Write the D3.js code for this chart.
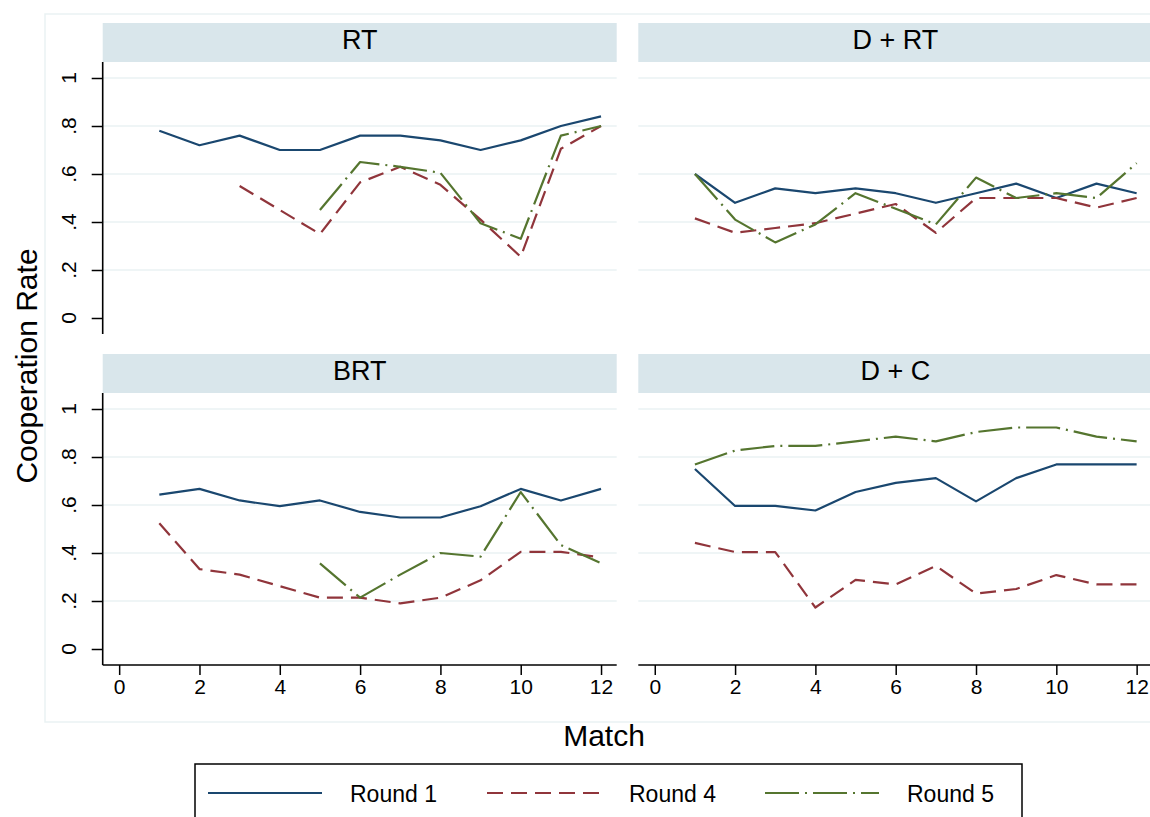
<!DOCTYPE html>
<html>
<head>
<meta charset="utf-8">
<script src="https://cdn.jsdelivr.net/npm/d3@7"></script>
<style>
  body { margin: 0; background: #ffffff; }
  text { font-family: "Liberation Sans", Arial, Helvetica, sans-serif; fill: #000; }
</style>
</head>
<body>
<div id="canvas"></div>
<script>
"use strict"

/* svg size matches the window */
let svgWidth = 1150;
let svgHeight = 817;

/* x values shared by every panel */
let matches = [1, 2, 3, 4, 5, 6, 7, 8, 9, 10, 11, 12];
let xTicks = [0, 2, 4, 6, 8, 10, 12];
let yTicks = [0, 0.2, 0.4, 0.6, 0.8, 1];
let yTickLabels = ["0", ".2", ".4", ".6", ".8", "1"];

let panelTitles = ["RT", "D + RT", "BRT", "D + C"];
let seriesNames = ["Round 1", "Round 4", "Round 5"];

/* cooperation rate per match (null = no point) */
let rtRound1 = [0.78, 0.72, 0.76, 0.70, 0.70, 0.76, 0.76, 0.74, 0.70, 0.74, 0.80, 0.84];
let rtRound4 = [null, null, 0.55, 0.45, 0.35, 0.565, 0.63, 0.555, 0.41, 0.255, 0.705, 0.80];
let rtRound5 = [null, null, null, null, 0.45, 0.65, 0.63, 0.605, 0.395, 0.33, 0.76, 0.80];

let drtRound1 = [0.60, 0.48, 0.54, 0.52, 0.54, 0.52, 0.48, 0.52, 0.56, 0.50, 0.56, 0.52];
let drtRound4 = [0.415, 0.355, 0.375, 0.395, 0.435, 0.475, 0.355, 0.50, 0.50, 0.50, 0.46, 0.50];
let drtRound5 = [0.60, 0.41, 0.315, 0.39, 0.52, 0.455, 0.39, 0.585, 0.50, 0.52, 0.50, 0.645];

let brtRound1 = [0.643, 0.667, 0.619, 0.595, 0.619, 0.571, 0.548, 0.548, 0.595, 0.667, 0.619, 0.667];
let brtRound4 = [0.524, 0.333, 0.31, 0.262, 0.214, 0.214, 0.19, 0.214, 0.286, 0.405, 0.405, 0.381];
let brtRound5 = [null, null, null, null, 0.357, 0.214, 0.31, 0.40, 0.385, 0.654, 0.433, 0.357];

let dcRound1 = [0.75, 0.596, 0.596, 0.577, 0.654, 0.692, 0.712, 0.615, 0.712, 0.769, 0.769, 0.769];
let dcRound4 = [0.442, 0.404, 0.404, 0.173, 0.288, 0.269, 0.346, 0.231, 0.25, 0.308, 0.269, 0.269];
let dcRound5 = [0.769, 0.827, 0.846, 0.846, 0.865, 0.885, 0.865, 0.904, 0.923, 0.923, 0.885, 0.865];

/* stata s2color look */
let colors = ["#1a476f", "#90353b", "#55752f"];
let dashes = [null, "16,8", "34,6,2,6"];
let gridColor = "#eaf2f3";
let stripColor = "#d9e6eb";

/* panel layout: [left, right, top, bottom] of each plot region */
let panels = [
    {title: panelTitles[0], data: [rtRound1, rtRound4, rtRound5], x0: 102.7, x1: 616.7, y0: 62, y1: 334, yAxis: true, xAxis: false},
    {title: panelTitles[1], data: [drtRound1, drtRound4, drtRound5], x0: 638.3, x1: 1152.3, y0: 62, y1: 334, yAxis: false, xAxis: false},
    {title: panelTitles[2], data: [brtRound1, brtRound4, brtRound5], x0: 102.7, x1: 616.7, y0: 393, y1: 665, yAxis: true, xAxis: true},
    {title: panelTitles[3], data: [dcRound1, dcRound4, dcRound5], x0: 638.3, x1: 1152.3, y0: 393, y1: 665, yAxis: false, xAxis: true}
];
let stripHeight = 39;

let svg = d3.select("#canvas")
    .append("svg")
    .attr("width", svgWidth)
    .attr("height", svgHeight);

/* faint outer box around the plot area */
svg.append("rect")
    .attr("x", 45)
    .attr("y", 14)
    .attr("width", 1120)
    .attr("height", 708)
    .attr("fill", "none")
    .attr("stroke", gridColor)
    .attr("stroke-width", 1.5);

panels.forEach(function (p) {
    let xScale = d3.scaleLinear()
        .domain([-0.41, 12.39])
        .range([p.x0, p.x1]);
    let yScale = d3.scaleLinear()
        .domain([-1 / 15, 1 + 1 / 15])
        .range([p.y1, p.y0]);

    let g = svg.append("g");

    // grey-blue title strip on top of each panel
    g.append("rect")
        .attr("x", p.x0)
        .attr("y", p.y0 - stripHeight)
        .attr("width", p.x1 - p.x0)
        .attr("height", stripHeight)
        .attr("fill", stripColor);
    g.append("text")
        .attr("x", (p.x0 + p.x1) / 2)
        .attr("y", p.y0 - 13.5)
        .attr("text-anchor", "middle")
        .attr("font-size", 27)
        .text(p.title);

    // horizontal grid (no line at zero)
    g.selectAll(".grid")
        .data(yTicks.filter(function (d) { return d > 0; }))
        .join("line")
        .attr("x1", p.x0)
        .attr("x2", p.x1)
        .attr("y1", function (d) { return yScale(d); })
        .attr("y2", function (d) { return yScale(d); })
        .attr("stroke", gridColor)
        .attr("stroke-width", 1.6);

    if (p.yAxis) {
        let yAxis = g.append("g")
            .attr("transform", "translate(" + p.x0 + ",0)")
            .call(d3.axisLeft(yScale).tickValues(yTicks).tickSize(11).tickFormat(""));
        yAxis.select(".domain").attr("d", "M0," + p.y0 + "V" + p.y1).attr("stroke-width", 1.6);
        yAxis.selectAll(".tick line").attr("stroke-width", 1.5);
        // rotated tick labels
        g.selectAll(".ylab")
            .data(yTicks)
            .join("text")
            .attr("transform", function (d) { return "translate(76," + yScale(d) + ") rotate(-90)"; })
            .attr("text-anchor", "middle")
            .attr("font-size", 21)
            .text(function (d, i) { return yTickLabels[i]; });
    }

    if (p.xAxis) {
        let xAxis = g.append("g")
            .attr("transform", "translate(0," + p.y1 + ")")
            .call(d3.axisBottom(xScale).tickValues(xTicks).tickSize(10).tickPadding(4).tickFormat(d3.format("d")));
        xAxis.select(".domain").attr("d", "M" + p.x0 + ",0H" + p.x1).attr("stroke-width", 1.6);
        xAxis.selectAll(".tick line").attr("stroke-width", 1.5);
        xAxis.selectAll(".tick text")
            .attr("font-size", 21)
            .attr("font-family", "Liberation Sans, Arial, sans-serif")
            .attr("fill", "#000");
    }

    // the three round lines, gaps where there is no value
    p.data.forEach(function (series, k) {
        let line = d3.line()
            .defined(function (d) { return d !== null; })
            .x(function (d, i) { return xScale(matches[i]); })
            .y(function (d) { return yScale(d); });
        g.append("path")
            .datum(series)
            .attr("d", line)
            .attr("fill", "none")
            .attr("stroke", colors[k])
            .attr("stroke-width", 2.2)
            .attr("stroke-linejoin", "round")
            .attr("stroke-dasharray", dashes[k]);
    });
});

/* axis titles */
svg.append("text")
    .attr("transform", "translate(37,366) rotate(-90)")
    .attr("text-anchor", "middle")
    .attr("font-size", 30)
    .text("Cooperation Rate");

svg.append("text")
    .attr("x", 604)
    .attr("y", 746)
    .attr("text-anchor", "middle")
    .attr("font-size", 30)
    .text("Match");

/* legend box runs off the bottom edge like the original */
svg.append("rect")
    .attr("x", 195)
    .attr("y", 764)
    .attr("width", 827)
    .attr("height", 80)
    .attr("fill", "none")
    .attr("stroke", "#000")
    .attr("stroke-width", 1.5);

let legendLineX = [208, 487, 765];
let legendY = 793;
seriesNames.forEach(function (name, k) {
    svg.append("line")
        .attr("x1", legendLineX[k])
        .attr("x2", legendLineX[k] + 114)
        .attr("y1", legendY)
        .attr("y2", legendY)
        .attr("stroke", colors[k])
        .attr("stroke-width", 2.2)
        .attr("stroke-dasharray", dashes[k]);
    svg.append("text")
        .attr("x", legendLineX[k] + 142)
        .attr("y", legendY + 9)
        .attr("font-size", 23)
        .text(name);
});
</script>
</body>
</html>
